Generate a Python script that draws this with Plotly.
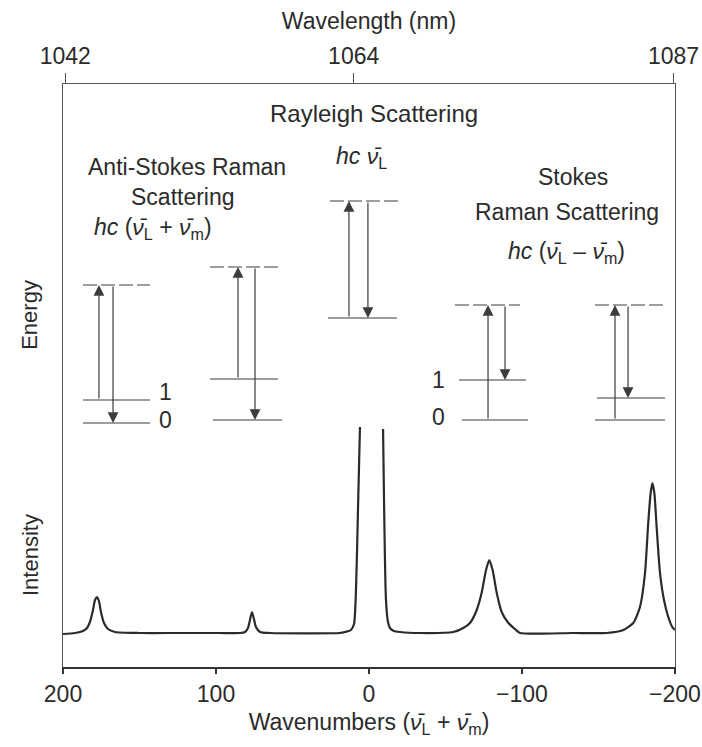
import plotly.graph_objects as go

# ---------------- data ----------------
# Spectrum: wavenumber shift and intensity (arbitrary units); None = clipped Rayleigh top
wavenumber = [200, 192.2, 186.9, 184.3, 182.4, 180.4, 179.1, 177.8, 176.5, 175.2, 173.2, 170.6,
              166.0, 149.7, 123.5, 97.4, 84.3, 81.0, 79.1, 77.8, 76.5, 75.2, 73.9, 71.2, 64.7,
              19.0, 15.7, 11.8, 9.8, 8.5, 7.2, 5.9, None,
              -9.2, -11.1, -12.4, -13.7, -16.3, -20.3, -33.3,
              -55.1, -61.6, -66.0, -70.4, -73.6, -76.5, -78.6, -80.8, -83.5, -86.7, -91.1, -95.4,
              -98.7, -133.5, -155.4, -166.2, -172.7, -177.1, -180.4, -182.5, -184.1, -185.2,
              -186.5, -188.0, -190.2, -192.8, -195.6, -198.2, -200]
intensity = [33, 34, 36, 39, 45, 57, 67, 70, 66, 55, 44, 38,
             35, 34, 34, 34, 34, 35, 39, 47, 55, 48, 40, 35, 34,
             34, 35, 37, 43, 77, 157, 240, None,
             238, 67, 45, 39, 36, 35, 34,
             35, 39, 44, 57, 74, 97, 107, 97, 74, 55, 44, 38,
             34, 34, 34, 37, 44, 60, 94, 144, 174, 184,
             174, 140, 94, 67, 50, 40, 37]

# Energy-level diagrams (same wavenumber / intensity frame)
virtual_x0 = [186.9, 103.9, 25.5, -56.2, -147.7]
virtual_x1 = [143.1, 59.5, -19.6, -98.7, -194.1]
virtual_e = [382, 400, 466, 362, 362]

level_x0 = [186.9, 186.9, 103.9, 102.0, 26.8, -58.8, -60.8, -149.0, -147.7]
level_x1 = [143.1, 143.1, 59.5, 56.9, -18.3, -102.6, -103.9, -193.5, -193.5]
level_e = [267, 244, 288, 247, 349, 287, 247, 269, 247]

arrow_x = [176.5, 167.3, 85.6, 74.5, 13.1, 0.7, -77.8, -88.9, -160.8, -169.3]
arrow_from = [267, 382, 288, 400, 349, 466, 247, 362, 247, 362]
arrow_to = [382, 244, 400, 247, 466, 349, 362, 287, 362, 269]

# Texts inside the plot
nu_L = "<i>ν̄</i><sub>L</sub>"
nu_m = "<i>ν̄</i><sub>m</sub>"
label_text = ["Rayleigh Scattering", "<i>hc</i> " + nu_L,
              "Anti-Stokes Raman", "Scattering", "<i>hc</i> (" + nu_L + " + " + nu_m + ")",
              "Stokes", "Raman Scattering", "<i>hc</i> (" + nu_L + " – " + nu_m + ")",
              "1", "0", "1", "0"]
label_x = [-3.3, 4.6, 119.0, 121.6, 141.2, -133.3, -129.4, -129.4, 132.7, 132.7, -45.1, -45.1]
label_y = [554, 510, 500, 470, 439, 490, 455, 415, 275, 247, 287, 250]
label_size = [24, 23, 23, 23, 23, 23, 23, 23, 23, 23, 23, 23]

# Axes
x_ticks = [200, 100, 0, -100, -200]
x_ticktext = ["200", "100", "0", "−100", "−200"]
wl_tickpos = [198.5, 10, -199]
wl_ticktext = ["1042", "1064", "1087"]

FONT = "Liberation Sans, Arial, sans-serif"
INK = "#2b2b2b"
DIAG = "#3c3c3c"
FS = 23

fig = go.Figure()

# dashed virtual levels
vx, vy = [], []
for a, b, e in zip(virtual_x0, virtual_x1, virtual_e):
    vx += [a, b, None]
    vy += [e, e, None]
fig.add_trace(go.Scatter(x=vx, y=vy, mode="lines",
                         line=dict(color=DIAG, width=1.2, dash="14px,4px"),
                         hoverinfo="skip", showlegend=False))

# solid vibrational levels
lx, ly = [], []
for a, b, e in zip(level_x0, level_x1, level_e):
    lx += [a, b, None]
    ly += [e, e, None]
fig.add_trace(go.Scatter(x=lx, y=ly, mode="lines",
                         line=dict(color=DIAG, width=1.2),
                         hoverinfo="skip", showlegend=False))

# spectrum
fig.add_trace(go.Scatter(x=wavenumber, y=intensity, mode="lines",
                         line=dict(color=INK, width=2.2, shape="spline", smoothing=0.6),
                         connectgaps=False, hoverinfo="skip", showlegend=False))

# dummy trace for top axis
fig.add_trace(go.Scatter(x=wl_tickpos, y=[None] * len(wl_tickpos), xaxis="x2",
                         mode="markers", hoverinfo="skip", showlegend=False))

annotations = []
for x, e0, e1 in zip(arrow_x, arrow_from, arrow_to):
    annotations.append(dict(x=x, y=e1, ax=x, ay=e0, xref="x", yref="y", axref="x", ayref="y",
                            text="", showarrow=True, arrowhead=2, arrowsize=1.8,
                            arrowwidth=1.2, arrowcolor=DIAG, standoff=0))
for t, x, y, s in zip(label_text, label_x, label_y, label_size):
    annotations.append(dict(x=x, y=y, xref="x", yref="y", text=t, showarrow=False,
                            xanchor="center", yanchor="middle",
                            font=dict(family=FONT, size=s, color=INK)))
annotations.append(dict(x=-0.054, y=0.604, xref="paper", yref="paper", text="Energy",
                        textangle=-90, showarrow=False, xanchor="center", yanchor="middle",
                        font=dict(family=FONT, size=22, color=INK)))
annotations.append(dict(x=-0.054, y=0.192, xref="paper", yref="paper", text="Intensity",
                        textangle=-90, showarrow=False, xanchor="center", yanchor="middle",
                        font=dict(family=FONT, size=22, color=INK)))

fig.update_layout(
    width=702, height=747,
    margin=dict(l=63, r=27, t=84, b=80),
    paper_bgcolor="white", plot_bgcolor="white",
    font=dict(family=FONT, size=FS, color=INK),
    annotations=annotations,
    xaxis=dict(range=[200, -200], showgrid=False, zeroline=False, automargin=False,
               showline=True, linecolor="#333", linewidth=2,
               ticks="outside", ticklen=5, tickwidth=1.5, tickcolor="#333",
               tickvals=x_ticks, ticktext=x_ticktext,
               tickfont=dict(family=FONT, size=FS, color=INK),
               title=dict(text="Wavenumbers (" + nu_L + " + " + nu_m + ")",
                          font=dict(family=FONT, size=FS, color=INK), standoff=8)),
    xaxis2=dict(range=[200, -200], overlaying="x", side="top", anchor="y", automargin=False,
                showgrid=False, zeroline=False,
                showline=True, linecolor="#555", linewidth=1.3,
                ticks="outside", ticklen=10, tickwidth=1.3, tickcolor="#555",
                tickvals=wl_tickpos, ticktext=wl_ticktext,
                tickfont=dict(family=FONT, size=FS, color=INK),
                title=dict(text="Wavelength (nm)", font=dict(family=FONT, size=FS, color=INK),
                           standoff=6)),
    yaxis=dict(range=[0, 583], showgrid=False, zeroline=False, showticklabels=False,
               automargin=False,
               ticks="", showline=True, mirror=True, linecolor="#555", linewidth=1.3),
)

# remove the default page margin so the figure fills the 702x747 window exactly
fig.write_html("out.html",
               config={"displayModeBar": False},
               post_script="document.body.style.margin='0px';"
                           "document.body.style.overflow='hidden';")
